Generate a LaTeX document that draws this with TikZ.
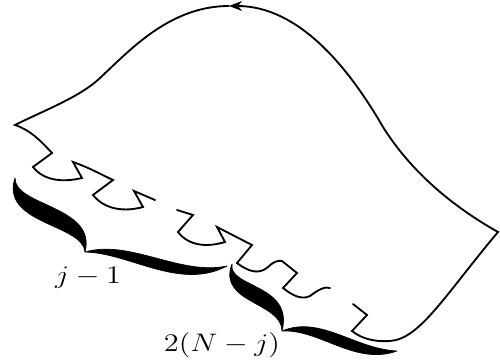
\documentclass[tikz,border=0pt]{standalone}
\usepackage{graphicx}
\usetikzlibrary{arrows.meta}
\begin{document}
\begin{tikzpicture}[x=0.02cm,y=-0.02cm,
  outline/.style={line width=1.05pt, line join=miter, line cap=round},
  bracearm/.style={fill=black, draw=black, line width=0.4pt, line join=round},
  lbl/.style={font=\fontsize{14}{16}\selectfont, inner sep=0pt}]
\useasboundingbox (0,0) rectangle (500,361);
% main outline, right and bottom part
\draw[outline] (353,304) -- (367,315) -- (352,331)
  .. controls (362,339) and (375,342) .. (390,341)
  .. controls (420,339) and (445,295) .. (498,232)
  .. controls (450,205) and (410,170) .. (383,127);
\draw[outline,-{Stealth[length=2.6mm,width=2mm,inset=0.8mm]}] (383,127) .. controls (350,70) and (300,6) .. (229,6);
\draw[outline] (229,6) .. controls (170,6) and (130,50) .. (100,78)
  .. controls (80,97) and (45,110) .. (15,125)
  .. controls (30,130) and (40,140) .. (52,153) -- (33,167)
  .. controls (45,182) and (65,182) .. (82,178) -- (73,162)
  .. controls (90,168) and (100,174) .. (113,180) -- (93,195)
  .. controls (105,210) and (125,212) .. (143,207) -- (134,191) -- (155,200);
% second zigzag piece
\draw[outline] (177,210) -- (193,215) -- (178,232)
  .. controls (188,245) and (205,248) .. (225,242) -- (217,227) -- (252,245) -- (237,263)
  .. controls (250,273) and (260,274) .. (268,267)
  .. controls (273,262) and (278,260) .. (282,261) -- (297,273) -- (283,288)
  .. controls (293,296) and (302,300) .. (310,296)
  .. controls (318,290) and (325,286) .. (330,288);
% brace 1
\filldraw[bracearm] (15,178) .. controls (0,224) and (83,224) .. (85,252)
  .. controls (97,206) and (14,206) .. (15,178) -- cycle;
\filldraw[bracearm] (85,252) .. controls (130,253) and (180,291) .. (227,266)
  .. controls (180,276) and (130,239) .. (85,252) -- cycle;
% brace 2
\filldraw[bracearm] (232,264) .. controls (217,303) and (282,302) .. (282,331)
  .. controls (294,284) and (228,288) .. (232,264) -- cycle;
\filldraw[bracearm] (282,331) .. controls (320,329) and (355,366) .. (397,351)
  .. controls (355,349) and (320,315) .. (282,331) -- cycle;
\node[lbl] (l1) at (88,278) {\scalebox{1.2}[1]{$j-1$}};
\node[lbl] (l2) at (222,345) {\scalebox{1.2}[1]{$2(N-j)$}};
\end{tikzpicture}
\end{document}
